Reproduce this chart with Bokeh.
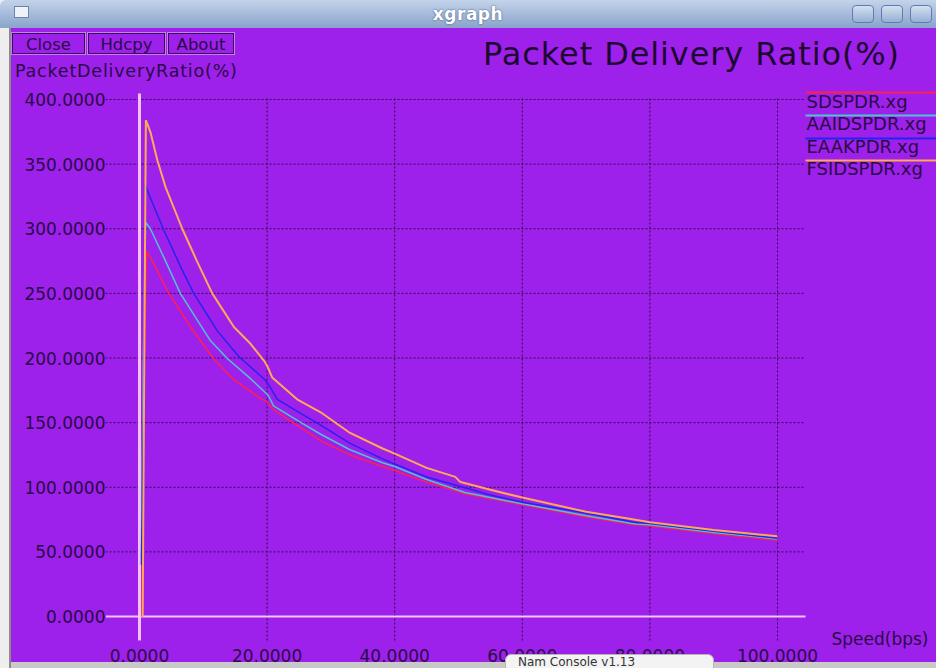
from bokeh.plotting import figure
from bokeh.models import Range1d, FixedTicker, PrintfTickFormatter, Div
from bokeh.layouts import column
from bokeh.core.properties import value
from bokeh.embed import file_html
from bokeh.resources import INLINE

# ---------------- data ----------------
sds_x = [0.4, 0.7, 1.1, 1.7, 4.6, 8.0, 11.7, 14.8, 19.2, 20.0, 21.0, 25.0, 28.4, 33.0,
         38.1, 40.0, 45.0, 51.0, 55.0, 60.0, 70.0, 77.5, 80.0, 90.0, 100.0]
sds_y = [0, 180, 282, 278, 250, 224, 199, 183, 168, 166, 160, 147, 136, 125,
         116, 113, 104, 95, 91, 86.4, 77, 71, 70, 64, 59]

aaids_x = [0.3, 0.6, 0.95, 1.7, 3.8, 6.4, 11.1, 13.8, 17.4, 20.0, 20.3, 21.0, 25.0, 28.4,
           33.0, 38.1, 40.0, 45.0, 51.0, 55.0, 60.0, 70.0, 77.5, 80.0, 90.0, 100.0]
aaids_y = [45, 200, 305, 300, 278, 250, 213.5, 199.4, 184, 172, 170, 163, 151, 141,
           129, 119, 116, 106, 96, 92, 87.2, 78, 71.7, 71, 65, 60]

eaak_x = [0.3, 0.6, 0.9, 1.05, 1.7, 3.8, 6.7, 8.5, 12.2, 15.6, 19.7, 20.4, 21.6, 25.0,
          28.4, 33.0, 38.1, 40.0, 45.0, 50.7, 55.0, 60.0, 70.0, 77.5, 80.0, 90.0, 100.0]
eaak_y = [40, 150, 335, 332, 324, 299, 268, 250, 221, 201, 183, 178, 168, 158,
          148, 134, 122, 118, 108, 100, 94, 88.4, 80, 73, 72, 66, 60.5]

fsids_x = [0.5, 0.8, 1.0, 1.7, 2.8, 4.1, 6.7, 9.0, 11.4, 14.8, 17.4, 19.5, 20.0, 20.8,
           24.7, 28.4, 33.0, 38.1, 40.0, 45.0, 49.5, 50.3, 55.0, 60.0, 70.0, 77.5, 80.0,
           90.0, 100.0]
fsids_y = [0, 240, 384, 375, 353, 332, 300, 275, 250, 224, 211, 198, 194, 185,
           168, 158, 142, 130, 126, 115, 108, 104, 98, 92, 81, 75, 73, 67, 62]

series_names = ["SDSPDR.xg", "AAIDSPDR.xg", "EAAKPDR.xg", "FSIDSPDR.xg"]
series_colors = ["#ff2050", "#4cc4d4", "#2424f0", "#ffa855"]

x_ticks = [0, 20, 40, 60, 80, 100]
y_ticks = [0, 50, 100, 150, 200, 250, 300, 350, 400]

title_text = "Packet Delivery Ratio(%)"
y_label_text = "PacketDeliveryRatio(%)"
x_label_text = "Speed(bps)"
button_texts = ["Close", "Hdcpy", "About"]
console_text = "Nam Console v1.13"

# ---------------- styling / layout constants ----------------
PURPLE = "#9d21eb"
DARK = "#2a0a48"
FONT = value("DejaVu Sans")
W = 936
HEAD_H, MAIN_H = 88, 580
MAIN_TOP = HEAD_H
CONSOLE_H = 14

# page-pixel geometry of the plotting area (used to place the frame)
PX0, PXU = 139.0, 6.38      # page x of x=0, pixels per x unit
PY0, PYU = 616.0, 1.2925    # page y of y=0, pixels per y unit


def dx(px):
    return (px - PX0) / PXU


def dy(py):
    return (PY0 - py) / PYU


GRID_X0, GRID_X1 = dx(105), dx(805)
GRID_Y0, GRID_Y1 = dy(640), dy(97)

LEFT_STRIP = ("linear-gradient(to right, #eeeeee 0px, #eeeeee 9px, #8c8c8c 9px, "
              "#8c8c8c 11px, rgba(0,0,0,0) 11px)")

# ---------------- main plot ----------------
p = figure(width=W, height=MAIN_H, output_backend="svg", toolbar_location=None,
           x_range=Range1d(dx(105), dx(W)), y_range=Range1d(dy(648), dy(MAIN_TOP)),
           min_border_left=105, min_border_right=0, min_border_top=0,
           min_border_bottom=20,
           background_fill_color=PURPLE, border_fill_color=None,
           outline_line_color=None)
p.styles = {"background": LEFT_STRIP + ", linear-gradient(to bottom, " + PURPLE +
            " 0px, " + PURPLE + " 574px, #c9c9c9 574px)"}
p.xgrid.visible = False
p.ygrid.visible = False
p.xaxis.ticker = FixedTicker(ticks=x_ticks)
p.yaxis.ticker = FixedTicker(ticks=y_ticks)
for ax in (p.xaxis, p.yaxis):
    ax.formatter = PrintfTickFormatter(format="%.4f")
    ax.axis_line_color = None
    ax.major_tick_line_color = None
    ax.minor_tick_line_color = None
    ax.major_tick_out = 0
    ax.major_tick_in = 0
    ax.major_label_text_font = "DejaVu Sans"
    ax.major_label_text_color = DARK
    ax.major_label_text_font_size = "17px"
p.yaxis.major_label_standoff = 0
p.xaxis.major_label_standoff = 0

# dotted grid limited to the plotting area
GRID_COLOR = "#33094c"
p.segment(x0=x_ticks, x1=x_ticks, y0=[GRID_Y0] * len(x_ticks), y1=[GRID_Y1] * len(x_ticks),
          line_color=GRID_COLOR, line_dash="2 2", line_width=1)
p.segment(x0=[GRID_X0] * len(y_ticks), x1=[GRID_X1] * len(y_ticks), y0=y_ticks, y1=y_ticks,
          line_color=GRID_COLOR, line_dash="2 2", line_width=1)

# zero axes (xgraph draws them in a light colour)
p.segment(x0=[0], x1=[0], y0=[GRID_Y0], y1=[GRID_Y1 + 3], line_color="#f3c2f3", line_width=3)
p.segment(x0=[GRID_X0], x1=[GRID_X1], y0=[0], y1=[0], line_color="#f3c8f3", line_width=2)

# curves
p.line(sds_x, sds_y, line_color=series_colors[0], line_width=1.5)
p.line(aaids_x, aaids_y, line_color=series_colors[1], line_width=1.5)
p.line(eaak_x, eaak_y, line_color=series_colors[2], line_width=1.5)
p.line(fsids_x, fsids_y, line_color=series_colors[3], line_width=2)

# legend on the right (line above each name, as xgraph draws it)
leg_line_py = [92, 115, 138, 160]
leg_text_py = [101, 123, 146, 168]
p.segment(x0=[dx(805)] * 4, x1=[dx(W)] * 4, y0=[dy(v) for v in leg_line_py],
          y1=[dy(v) for v in leg_line_py], line_color=series_colors, line_width=2)
p.text(x=[dx(806)] * 4, y=[dy(v) for v in leg_text_py], text=series_names,
       text_font=FONT, text_font_size=value("18px"), text_color=DARK,
       text_align="left", text_baseline="middle")

# x axis name, bottom right
p.text(x=[dx(831)], y=[dy(638)], text=[x_label_text], text_font=FONT,
       text_font_size=value("17px"), text_color=DARK, text_align="left",
       text_baseline="middle")

# ---------------- window title bar + button row + title (HTML header) ----------------
btn_html = ""
for txt, left, width in zip(button_texts, [12, 88, 168], [73, 77, 66]):
    btn_html += (
        f'<div style="position:absolute;left:{left}px;top:33px;width:{width}px;height:21px;'
        f'border:1px solid #3a0a5e;outline:1px solid #c67cf2;text-align:center;'
        f'font-size:16.5px;line-height:21px;color:{DARK};">{txt}</div>'
    )

head_html = f"""
<div style="position:relative;width:{W}px;height:{HEAD_H}px;overflow:hidden;
 background:{LEFT_STRIP}, {PURPLE};font-family:'DejaVu Sans';">
 <div style="position:absolute;left:0;top:0;width:{W}px;height:28px;
  background:linear-gradient(#c3d3ea,#8aa3cb);border-top-left-radius:6px;"></div>
 <div style="position:absolute;left:14px;top:6px;width:15px;height:12px;
  background:#eef2f8;border:1px solid #6a84b0;"></div>
 <div style="position:absolute;left:0;top:5px;width:{W}px;text-align:center;
  color:#ffffff;font-weight:bold;font-size:17px;line-height:18px;letter-spacing:0.5px;
  text-shadow:0 0 2px #33466e;">xgraph</div>
 <div style="position:absolute;left:852px;top:5px;width:22px;height:18px;
  border:1px solid #5f7db2;border-radius:4px;background:linear-gradient(#d4e0f0,#96afd4);"></div>
 <div style="position:absolute;left:881px;top:5px;width:22px;height:18px;
  border:1px solid #5f7db2;border-radius:4px;background:linear-gradient(#d4e0f0,#96afd4);"></div>
 <div style="position:absolute;left:910px;top:5px;width:22px;height:18px;
  border:1px solid #5f7db2;border-radius:4px;background:linear-gradient(#d4e0f0,#96afd4);"></div>
 {btn_html}
 <div style="position:absolute;left:483px;top:38px;white-space:nowrap;font-size:32px;
  line-height:32px;letter-spacing:0.9px;color:#1c0830;">{title_text}</div>
 <div style="position:absolute;left:15px;top:62px;white-space:nowrap;font-size:17.5px;
  line-height:18px;letter-spacing:0.8px;color:{DARK};">{y_label_text}</div>
</div>
"""
head = Div(text=head_html, width=W, height=HEAD_H, margin=(0, 0, 0, 0))
p.margin = (0, 0, 0, 0)

# the small console window that overlaps the bottom of the screenshot
console_html = f"""
<div style="position:relative;width:211px;height:{CONSOLE_H}px;overflow:hidden;">
 <div style="position:absolute;left:0;top:0;width:209px;height:30px;background:#f3f3f3;
  border:1px solid #b5b5b5;border-radius:6px 6px 0 0;font-family:'DejaVu Sans';
  font-size:12px;line-height:12px;color:#333333;padding-left:12px;box-sizing:border-box;
  padding-top:1px;white-space:nowrap;">{console_text}</div>
</div>
"""
console = Div(text=console_html, width=211, height=CONSOLE_H,
              margin=(-CONSOLE_H, 0, 0, 505))

layout = column(head, p, console, spacing=0)

with open("out.html", "w") as f:
    f.write(file_html(layout, INLINE))
